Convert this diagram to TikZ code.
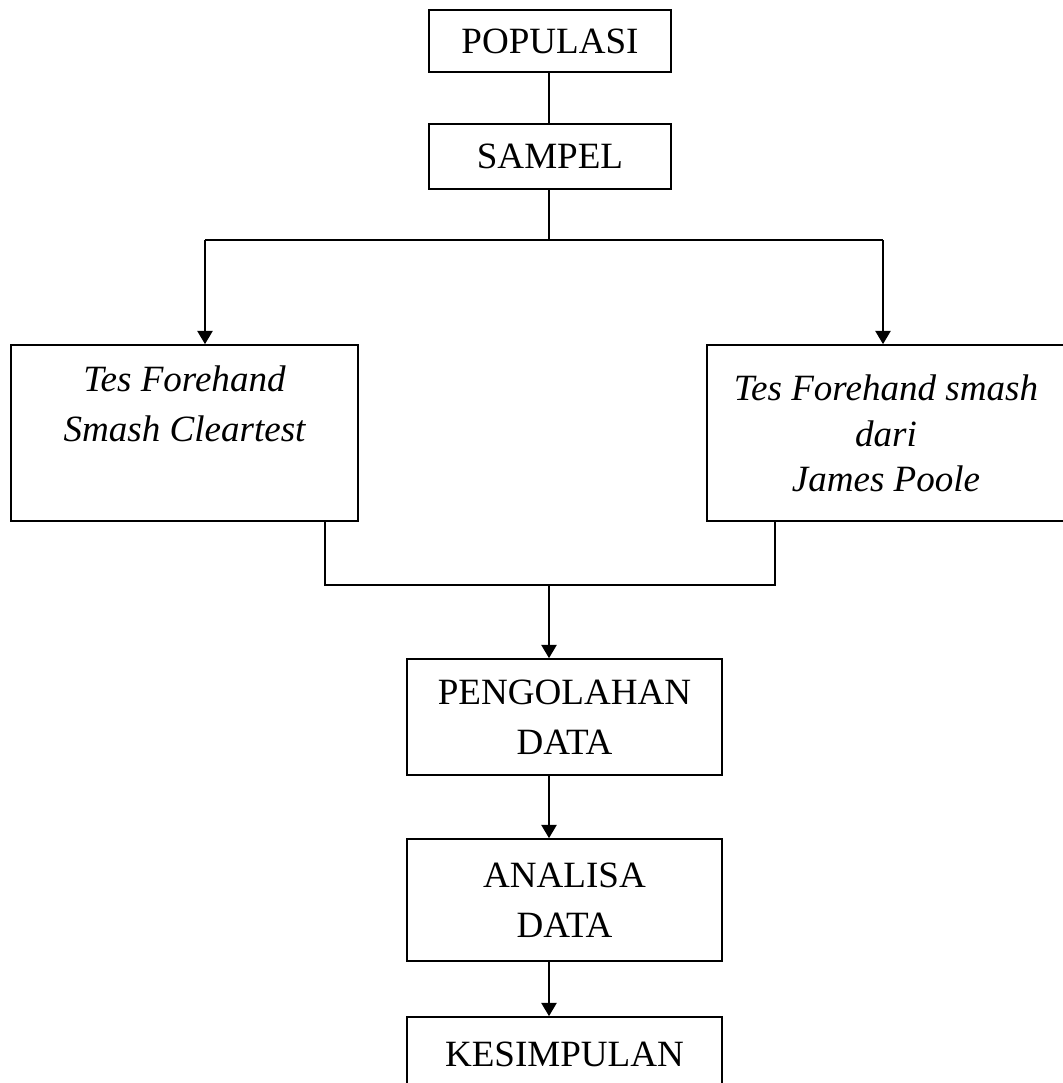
\documentclass[tikz,border=0pt]{standalone}
\usepackage{fontspec}
\setmainfont{Liberation Serif}
\usetikzlibrary{arrows.meta}
\tikzset{
  box/.style={draw, line width=1.3pt, inner sep=0pt, align=center,
    font=\fontsize{27.8}{37.5}\selectfont},
  itext/.style={inner sep=0pt, align=center, anchor=north},
  link/.style={line width=1.3pt},
  arr/.style={line width=1.3pt, -{Triangle[width=11.5pt,length=10pt]}}
}
\begin{document}
\begin{tikzpicture}[x=0.75pt,y=-0.75pt]
\useasboundingbox (0,0) rectangle (1063,1083);
\clip (0,0) rectangle (1063,1083);
% boxes
\node[box, minimum width=182pt, minimum height=46.5pt] (pop) at (550,41) {POPULASI};
\node[box, minimum width=182pt, minimum height=48.75pt] (sam) at (550,156.5) {SAMPEL};
\node[box, minimum width=260.25pt, minimum height=132pt] (left) at (184.5,433) {};
\node[box, minimum width=269.25pt, minimum height=132pt] (right) at (886.5,433) {};
\node[itext, font=\fontsize{27.8}{37}\selectfont\itshape] (lt) at (184.5,366) {Tes Forehand\\Smash Cleartest};
\node[itext, font=\fontsize{27.8}{34}\selectfont\itshape] (rt) at (886,375) {Tes Forehand smash\\dari\\James Poole};
\node[box, minimum width=236.25pt, minimum height=87pt] (peng) at (564.5,717) {PENGOLAHAN\\DATA};
\node[box, minimum width=236.25pt, minimum height=91.5pt] (ana) at (564.5,900) {ANALISA\\DATA};
\node[box, minimum width=236.25pt, minimum height=55.5pt] (kes) at (564.5,1054) {KESIMPULAN};
% connector points
\coordinate (split) at (549,240);
\coordinate (sl) at (205,240);
\coordinate (sr) at (883,240);
\coordinate (jl) at (325,585);
\coordinate (jr) at (775,585);
\coordinate (jm) at (549,585);
% connectors
\draw[link] (pop.south -| split) -- (sam.north -| split);
\draw[link] (sam.south -| split) -- (split);
\draw[link] (sl) -- (sr);
\draw[arr] (sl) -- (sl |- left.north);
\draw[arr] (sr) -- (sr |- right.north);
\draw[link] (jl |- left.south) -- (jl) -- (jr) -- (jr |- right.south);
\draw[arr] (jm) -- (jm |- peng.north);
\draw[arr] (peng.south -| jm) -- (ana.north -| jm);
\draw[arr] (ana.south -| jm) -- (kes.north -| jm);
\end{tikzpicture}
\end{document}
